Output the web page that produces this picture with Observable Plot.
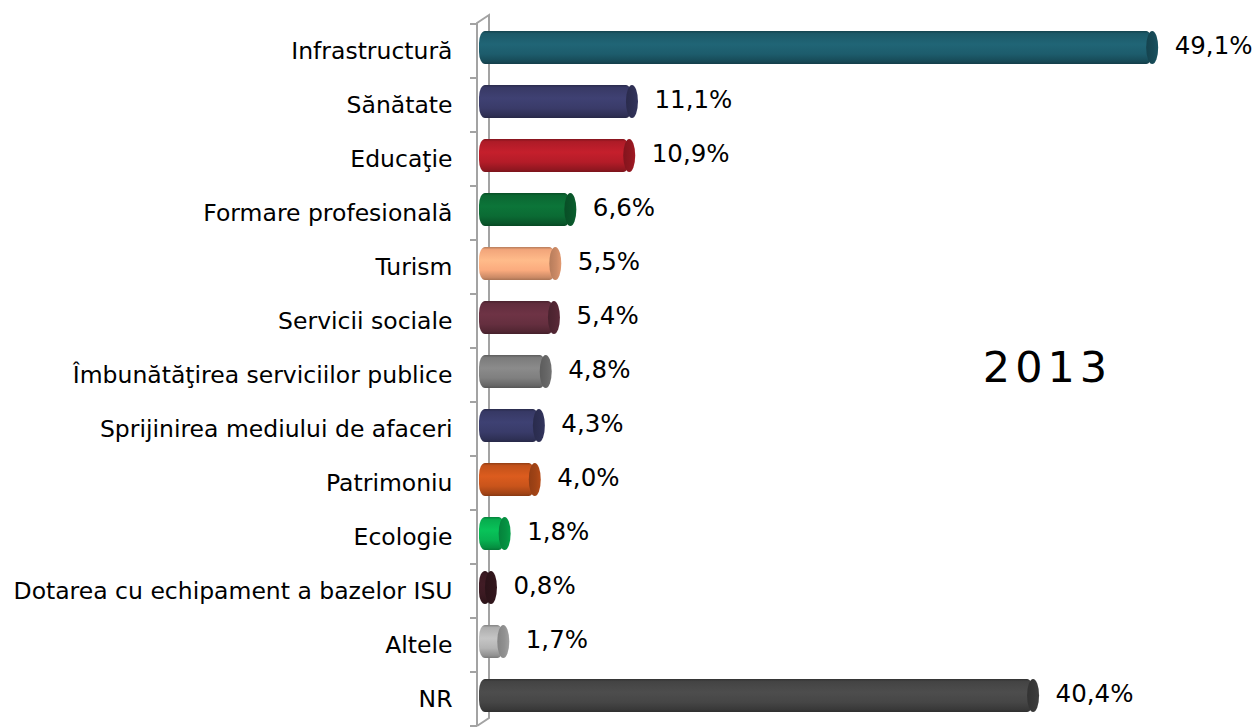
<!DOCTYPE html>
<html><head><meta charset="utf-8">
<script src="https://cdn.jsdelivr.net/npm/d3@7"></script>
<script src="https://cdn.jsdelivr.net/npm/@observablehq/plot@0.6"></script>
<style>
body{margin:0;background:#fff;}
#chart svg{display:block;}
</style></head><body><div id="chart"></div>
<script>
// ---- data ----
const categories = [
  "Infrastructură",
  "Sănătate",
  "Educaţie",
  "Formare profesională",
  "Turism",
  "Servicii sociale",
  "Îmbunătăţirea serviciilor publice",
  "Sprijinirea mediului de afaceri",
  "Patrimoniu",
  "Ecologie",
  "Dotarea cu echipament a bazelor ISU",
  "Altele",
  "NR"
];
const values = [49.1, 11.1, 10.9, 6.6, 5.5, 5.4, 4.8, 4.3, 4.0, 1.8, 0.8, 1.7, 40.4];
const yearLabel = "2013";

// ---- styles ----
const palette = ["#1d5c6c", "#3a3b69", "#b41c28", "#0b6b34", "#fbab7e", "#652f3f",
  "#7f7f7f", "#393b69", "#c9541b", "#07b251", "#3b1a22", "#b4b4b4", "#464646"];
const FONT = "'DejaVu Sans', Verdana, sans-serif";

const data = categories.map((c, i) => ({category: c, value: values[i], idx: i}));
const fmt = v => v.toFixed(1).replace(".", ",") + "%";

const plot = Plot.plot({
  width: 1257, height: 728,
  marginLeft: 477, marginRight: 0, marginTop: 23, marginBottom: 2,
  style: {fontFamily: FONT, fontSize: "23.5px", background: "#fff", color: "#000"},
  x: {domain: [0, 50], range: [480, 1164.5], axis: null},
  y: {domain: categories, padding: 0, axis: null},
  color: {type: "identity"},
  marks: [
    Plot.axisY({tickSize: 0, tickPadding: 25, fontSize: 23.5, fill: "#000", label: null}),
    Plot.barX(data, {x: "value", y: "category", insetTop: 7, insetBottom: 14, insetLeft: -1,
      rx: 6, ry: 12, fill: d => `url(#body${d.idx})`}),
    Plot.barX(data, {x1: "value", x2: "value", y: "category", insetTop: 7, insetBottom: 14,
      insetLeft: -6, insetRight: -6, rx: 6, ry: 16.5, fill: d => `url(#cap${d.idx})`}),
    Plot.text(data, {x: "value", y: "category", text: d => fmt(d.value), dx: 22, dy: -5,
      textAnchor: "start", fontSize: 24.5, fill: "#000"}),
    Plot.text([yearLabel], {frameAnchor: "middle", text: d => d, dx: 180, dy: -7,
      fontSize: 43, fill: "#000", className: "yearlbl"})
  ]
});

document.getElementById("chart").appendChild(plot);

const svg = d3.select(plot);
const defs = svg.insert("defs", ":first-child");
palette.forEach((c, i) => {
  const base = d3.color(c);
  const g = defs.append("linearGradient").attr("id", "body" + i)
    .attr("x1", 0).attr("y1", 0).attr("x2", 0).attr("y2", 1);
  [[0, base.darker(0.9)], [0.08, base.darker(0.1)], [0.4, base.brighter(0.25)],
   [0.7, base], [0.92, base.darker(0.6)], [1, base.darker(1.1)]]
    .forEach(([o, col]) => g.append("stop").attr("offset", o).attr("stop-color", col.formatHex()));
  const cg = defs.append("linearGradient").attr("id", "cap" + i)
    .attr("x1", 0).attr("y1", 0).attr("x2", 1).attr("y2", 0);
  [[0, base.darker(0.9)], [0.6, base.darker(0.6)], [1, base.darker(0.3)]]
    .forEach(([o, col]) => cg.append("stop").attr("offset", o).attr("stop-color", col.formatHex()));
});

svg.select(".yearlbl").selectAll("text").style("letter-spacing", "5px");

// 3D wall axis
const xs = plot.scale("x"), ys = plot.scale("y");
const x0 = xs.apply(0);
const bw = ys.bandwidth;
const yTop = ys.apply(categories[0]);
const yBot = ys.apply(categories[categories.length - 1]) + bw;
const wall = svg.insert("g", "defs + *").attr("stroke", "#a3a3a3").attr("stroke-width", 2).attr("fill", "none");
const front = x0 - 3, back = x0 + 9, depth = 8;
wall.append("path").attr("d",
  `M${front},${yBot} L${front},${yTop - 1} L${back},${yTop - 1 - depth} L${back},${yBot - depth} L${front},${yBot}`);
const bounds = categories.map(c => ys.apply(c)).concat([yBot]);
bounds.forEach(b => wall.append("line").attr("x1", front - 7).attr("x2", front).attr("y1", b).attr("y2", b));
</script>
</body></html>
